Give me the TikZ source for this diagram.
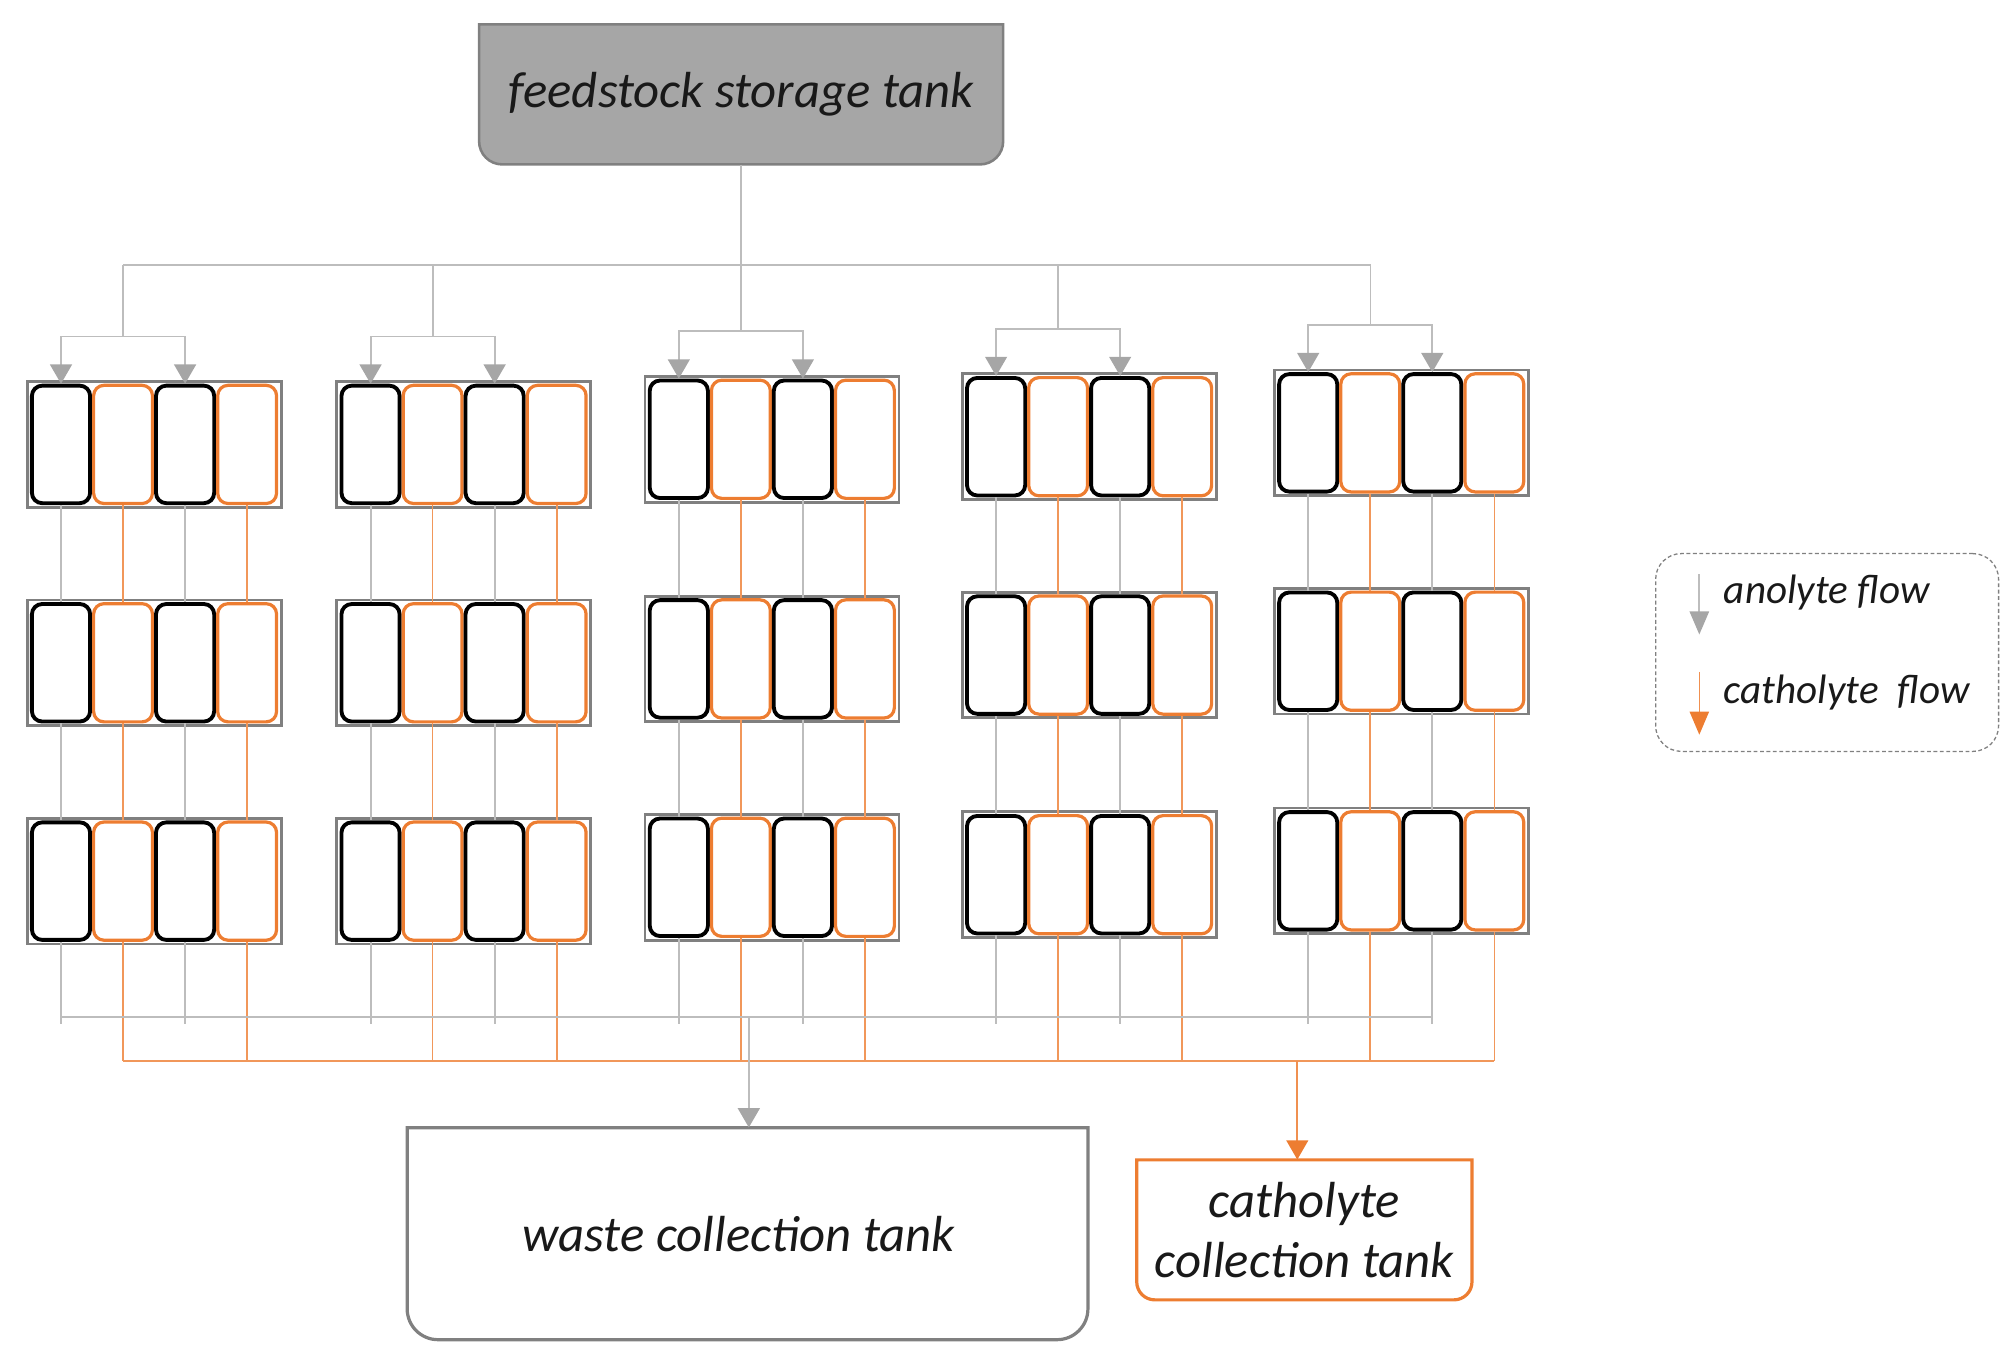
\documentclass[tikz,border=0pt]{standalone}
\usepackage{fontspec}
\setmainfont{Carlito}
\usetikzlibrary{arrows.meta,calc}
\definecolor{orng}{HTML}{ED7D31}
\definecolor{lgray}{HTML}{BDBDBD}
\definecolor{agray}{HTML}{A6A6A6}
\definecolor{bgray}{HTML}{808080}
\definecolor{tankfill}{HTML}{A6A6A6}
\newcommand{\tankoutline}[6]{%
  \path[#1] (#2,#3) -- (#2,#5-#6) .. controls (#2,#5-0.448*#6) and (#2+0.448*#6,#5) .. (#2+#6,#5)
   -- (#4-#6,#5) .. controls (#4-0.448*#6,#5) and (#4,#5-0.448*#6) .. (#4,#5-#6) -- (#4,#3) -- cycle;}
\begin{document}
\begin{tikzpicture}[x=1pt,y=-1pt,
  blockbox/.style={draw=bgray, line width=2.2pt, rectangle, minimum width=197.8pt, minimum height=97.8pt, inner sep=0pt},
  anocell/.style={draw=black, line width=3pt, rounded corners=8pt, minimum width=45.3pt, minimum height=91.5pt, inner sep=0pt},
  catcell/.style={draw=orng, line width=2.5pt, rounded corners=8pt, minimum width=45.8pt, minimum height=92pt, inner sep=0pt},
  gline/.style={draw=lgray, line width=1.5pt},
  oline/.style={draw=orng!80!white, line width=1.3pt},
  garrow/.style={gline, -{Triangle[width=17pt,length=15pt,color=agray]}},
  oarrow/.style={draw=orng!85!white, line width=1.3pt, -{Triangle[width=17pt,length=15pt,color=orng]}},
  lbl/.style={font=\fontsize{39.5}{47}\selectfont\itshape, align=center, inner sep=0pt, text=black!90},
  legtext/.style={font=\fontsize{32}{36}\selectfont\itshape, inner sep=0pt, anchor=base west, text=black!90},
]
\useasboundingbox (0,0) rectangle (1568,1057);

% tanks
\tankoutline{fill=tankfill, draw=bgray, line width=2pt}{373}{19}{781}{128}{18}
\node[lbl, minimum width=408pt, minimum height=109pt] (tank) at (577,73.5) {feedstock storage tank};

\tankoutline{fill=white, draw=bgray, line width=2.5pt}{317}{878}{847}{1043}{24}
\node[lbl, minimum width=530pt, minimum height=165pt] (waste) at (575,960.5) {waste collection tank};

\tankoutline{fill=white, draw=orng, line width=2.5pt}{885}{903}{1146}{1012}{14}
\node[lbl, minimum width=261pt, minimum height=109pt] (cath) at (1015.5,957.5) {catholyte\\collection tank};

% stacks
\foreach \c/\L/\ta/\tb/\tc in {1/20/296/466/636, 2/261/296/466/636, 3/501/292/463/633, 4/748/290/460/631, 5/991/287/457/628}{
  \foreach \r/\T in {1/\ta, 2/\tb, 3/\tc}{
    \node[blockbox] (b-\c-\r) at (\L+100,\T+50) {};
    \node[anocell] (c-\c-\r-0) at (\L+27.5,\T+50) {};
    \node[catcell] (c-\c-\r-1) at (\L+75.8,\T+50) {};
    \node[anocell] (c-\c-\r-2) at (\L+124.1,\T+50) {};
    \node[catcell] (c-\c-\r-3) at (\L+172.4,\T+50) {};
  }
  % inlet distribution
  \coordinate (in-\c) at (\L+76,206);
  \coordinate (sp-\c) at (\L+76,\ta-34);
  \draw[gline] (in-\c) -- (sp-\c);
  \draw[garrow] (sp-\c) -| (c-\c-1-0.north);
  \draw[garrow] (sp-\c) -| (c-\c-1-2.north);
  % between rows
  \foreach \r/\s in {1/2, 2/3}{
    \draw[gline] (c-\c-\r-0.south) -- (c-\c-\s-0.north);
    \draw[oline] (c-\c-\r-1.south) -- (c-\c-\s-1.north);
    \draw[gline] (c-\c-\r-2.south) -- (c-\c-\s-2.north);
    \draw[oline] (c-\c-\r-3.south) -- (c-\c-\s-3.north);
  }
  % outlets
  \draw[gline] (c-\c-3-0.south) -- (c-\c-3-0.south |- 0,797);
  \draw[gline] (c-\c-3-2.south) -- (c-\c-3-2.south |- 0,797);
  \draw[oline] (c-\c-3-1.south) -- (c-\c-3-1.south |- 0,826);
  \draw[oline] (c-\c-3-3.south) -- (c-\c-3-3.south |- 0,826);
}

% feed trunk and header
\draw[gline] (tank.south) -- (in-3);
\draw[gline] (in-1) -- (in-5);

% collectors
\draw[gline] (c-1-3-0.south |- 0,792) -- (c-5-3-2.south |- 0,792);
\draw[oline] (c-1-3-1.south |- 0,826) -- (c-5-3-3.south |- 0,826);
\coordinate (wj) at (583,792);
\draw[garrow] (wj) -- (wj |- waste.north);
\coordinate (cj) at (1010,826);
\draw[oarrow] (cj) -- (cj |- cath.north);

% legend
\node[draw=bgray, dash pattern=on 3pt off 2pt, line width=1pt, rounded corners=20pt, minimum width=267pt, minimum height=154pt, inner sep=0pt] (legend) at (1422.5,508) {};
\coordinate (la1) at (1323,447);
\coordinate (la2) at (1323,494);
\draw[gline, -{Triangle[width=15pt,length=18pt,color=agray]}] (la1) -- (la2);
\coordinate (lb1) at (1323,523);
\coordinate (lb2) at (1323,572);
\draw[draw=orng!85!white, line width=1.3pt, -{Triangle[width=15pt,length=18pt,color=orng]}] (lb1) -- (lb2);
\node[legtext] (lt1) at (1342,470) {anolyte flow};
\node[legtext] (lt2) at (1342,548) {catholyte\ \ flow};
\end{tikzpicture}
\end{document}
